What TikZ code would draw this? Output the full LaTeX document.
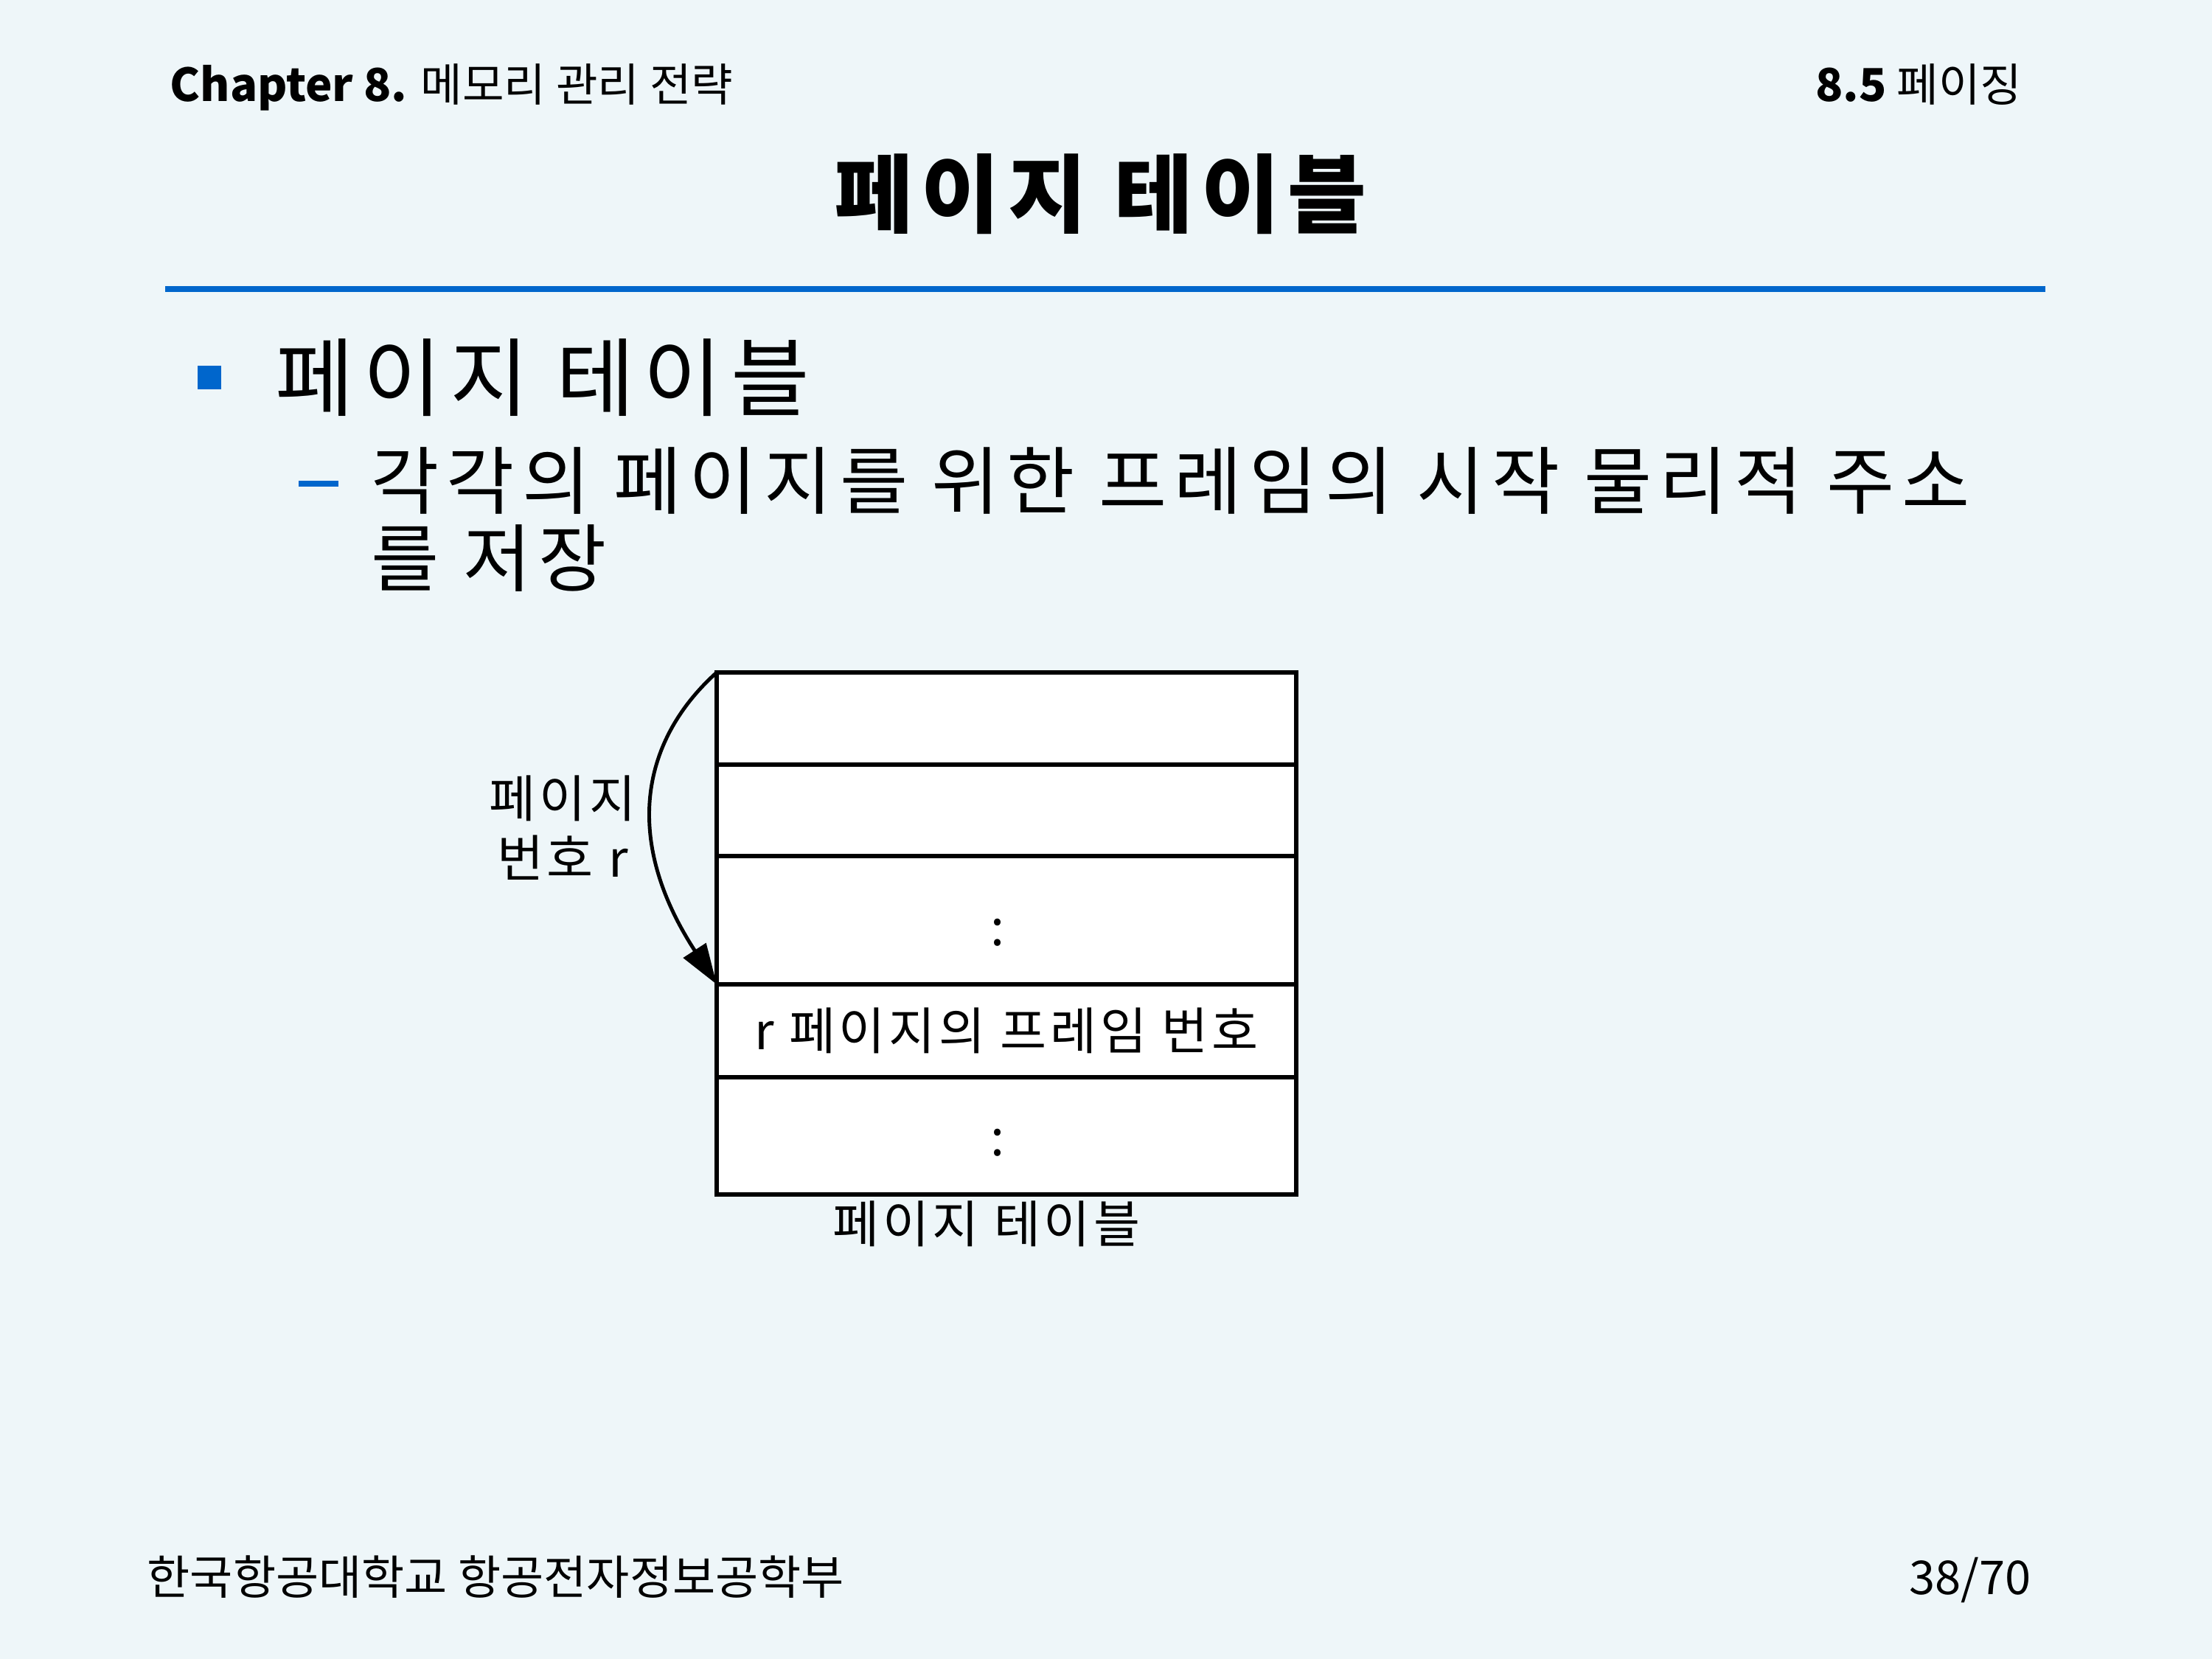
\documentclass[tikz,border=0pt]{standalone}
\usepackage{fontspec}
\setmainfont{Noto Sans CJK KR}
\usetikzlibrary{positioning,arrows.meta}
\definecolor{slidebg}{RGB}{238,246,249}
\definecolor{slideblue}{RGB}{0,102,204}
\newcommand{\diagfont}{\fontsize{19.5pt}{23pt}\selectfont\addfontfeature{LetterSpace=7}}
\tikzset{
  rowbox/.style={draw,line width=1.5pt,fill=white,minimum width=7.86cm,inner sep=0pt,outer sep=0pt,font=\diagfont},
  txt/.style={inner sep=0pt}
}
\begin{document}
\begin{tikzpicture}
\fill[slidebg] (0,0) rectangle (30,-22.5);
\useasboundingbox (0,0) rectangle (30,-22.5);
% header
\node[txt,anchor=base west] (chap) at (2.30,-1.38) {\fontsize{17.5pt}{20pt}\selectfont\textbf{Chapter 8.} 메모리 관리 전략};
\node[txt,anchor=base east] (sect) at (27.43,-1.38) {\fontsize{17.5pt}{20pt}\selectfont\textbf{8.5} 페이징};
\node[txt] (title) at (14.98,-2.63) {\fontsize{33pt}{36pt}\selectfont\addfontfeature{LetterSpace=9.5}\textbf{페이지 테이블}};
\draw[slideblue,line width=2.3pt] (2.24,-3.92) -- (27.74,-3.92);
% bullets
\node[fill=slideblue,minimum size=0.32cm,inner sep=0pt] (sq) at (2.84,-5.12) {};
\node[txt,anchor=base west] (lvl1) at (3.73,-5.56) {\fontsize{33pt}{36pt}\selectfont\addfontfeature{LetterSpace=10}페이지 테이블};
\draw[slideblue,line width=2.2pt] (4.05,-6.56) -- (4.59,-6.56);
\node[txt,anchor=base west] (lvl2a) at (5.03,-6.90) {\fontsize{28.5pt}{32pt}\selectfont\addfontfeature{LetterSpace=10}각각의 페이지를 위한 프레임의 시작 물리적 주소};
\node[txt,anchor=base west] (lvl2b) at (5.03,-7.95) {\fontsize{28.5pt}{32pt}\selectfont\addfontfeature{LetterSpace=10}를 저장};
% page table
\node[rowbox,minimum height=1.25cm,anchor=north west] (row1) at (9.72,-9.12) {};
\node[rowbox,minimum height=1.24cm,below=0pt of row1] (row2) {};
\node[rowbox,minimum height=1.74cm,below=0pt of row2] (row3) {};
\node[rowbox,minimum height=1.26cm,below=0pt of row3] (row4) {r 페이지의 프레임 번호};
\node[rowbox,minimum height=1.59cm,below=0pt of row4] (row5) {};
\node[txt,font=\diagfont] (dots1) at ([xshift=-0.12cm,yshift=-0.17cm]row3.center) {:};
\node[txt,font=\diagfont] (dots2) at ([xshift=-0.12cm,yshift=-0.09cm]row5.center) {:};
\node[txt,font=\diagfont] (tblname) at (13.38,-16.60) {페이지 테이블};
\node[txt,align=center,font=\diagfont] (pnum) at (7.63,-11.23) {페이지\\번호 r};
\draw[line width=1.4pt,-{Triangle[length=0.55cm,width=0.36cm]}] (row1.north west) .. controls +(-1.0,-0.9) and +(-1.3,2.0) .. (row4.north west);
% footer
\node[txt,anchor=base west] (school) at (1.99,-21.62) {\fontsize{18pt}{20pt}\selectfont 한국항공대학교 항공전자정보공학부};
\node[txt,anchor=base east] (pageno) at (27.55,-21.62) {\fontsize{18pt}{20pt}\selectfont 38/70};
\end{tikzpicture}
\end{document}
